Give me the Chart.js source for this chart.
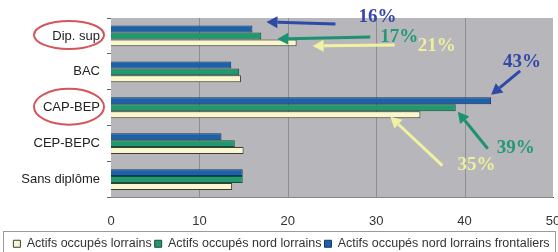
<!DOCTYPE html>
<html><head><meta charset="utf-8">
<script src="https://cdn.jsdelivr.net/npm/chart.js@4/dist/chart.umd.min.js"></script>
<style>html,body{margin:0;padding:0;background:#fff}#wrap{width:558px;height:252px;position:relative}</style>
</head><body><div id="wrap"><canvas id="c" width="558" height="252"></canvas></div>
<script>
const categories = ["Dip. sup", "BAC", "CAP-BEP", "CEP-BEPC", "Sans diplôme"];
const frontaliers = [16, 13.6, 43, 12.5, 14.9];
const nordLorrains = [17, 14.5, 39, 14, 14.9];
const lorrains = [21, 14.7, 35, 15, 13.7];
const xTicks = [0, 10, 20, 30, 40, 50];
const seriesNames = ["Actifs occupés nord lorrains frontaliers", "Actifs occupés nord lorrains", "Actifs occupés lorrains"];
const callouts = [
  {ds:0, idx:0, text:"16%"},
  {ds:1, idx:0, text:"17%"},
  {ds:2, idx:0, text:"21%"},
  {ds:0, idx:2, text:"43%"},
  {ds:1, idx:2, text:"39%"},
  {ds:2, idx:2, text:"35%"}
];
const circled = [0, 2];

const arrowColors = ["#2c4aa6", "#1d9272", "#f1f1a2"];
const textColors = ["#3447a8", "#249878", "#eeeea0"];
// pixel offsets of annotation shapes relative to bar ends
const calloutGeom = [
  {tip:[14,-7], tail:[83,-5], txt:[106,-12]},
  {tip:[16,3], tail:[109,1], txt:[119,1]},
  {tip:[16,3], tail:[98,2], txt:[121,3]},
  {tip:[0,-6], tail:[29,-30], txt:[12,-39]},
  {tip:[2,4], tail:[32,41], txt:[41,40]},
  {tip:[-30,2], tail:[22,51], txt:[37,50]}
];

function arrow(ctx, x1, y1, x2, y2, color) {
  const ang = Math.atan2(y2 - y1, x2 - x1);
  const hl = 11, hw = 6;
  const bx = x2 - hl * Math.cos(ang), by = y2 - hl * Math.sin(ang);
  ctx.strokeStyle = color; ctx.fillStyle = color; ctx.lineWidth = 3;
  ctx.beginPath(); ctx.moveTo(x1, y1); ctx.lineTo(bx, by); ctx.stroke();
  ctx.beginPath();
  ctx.moveTo(x2, y2);
  ctx.lineTo(bx + hw * Math.sin(ang), by - hw * Math.cos(ang));
  ctx.lineTo(bx - hw * Math.sin(ang), by + hw * Math.cos(ang));
  ctx.closePath(); ctx.fill();
}

const decor = {
  id: 'decor',
  beforeDatasetsDraw(chart) {
    const {ctx, chartArea: a} = chart;
    ctx.save();
    ctx.fillStyle = '#b7b7bb';
    ctx.fillRect(a.left, a.top, a.right - a.left, a.bottom - a.top);
    const xs = chart.scales.x;
    ctx.strokeStyle = '#8e8e90'; ctx.lineWidth = 1;
    xTicks.slice(1, -1).forEach(v => {
      const px = Math.round(xs.getPixelForValue(v)) + 0.5;
      ctx.beginPath(); ctx.moveTo(px, a.top); ctx.lineTo(px, a.bottom); ctx.stroke();
    });
    ctx.restore();
  },
  afterDatasetsDraw(chart) {
    const {ctx} = chart;
    ctx.save();
    callouts.forEach((c, i) => {
      const el = chart.getDatasetMeta(c.ds).data[c.idx];
      const g = calloutGeom[i];
      const bx = el.x, by = el.y;
      arrow(ctx, bx + g.tail[0], by + g.tail[1], bx + g.tip[0], by + g.tip[1], arrowColors[c.ds]);
      ctx.font = 'bold 19px "Liberation Serif", "Times New Roman", serif';
      ctx.fillStyle = textColors[c.ds];
      ctx.textBaseline = 'middle'; ctx.textAlign = 'left';
      ctx.fillText(c.text, bx + g.txt[0], by + g.txt[1]);
    });
    // red ellipses around labels
    const ys = chart.scales.y;
    ctx.strokeStyle = '#d4555a'; ctx.lineWidth = 2;
    circled.forEach((idx, k) => {
      const cy = ys.getPixelForValue(idx);
      ctx.beginPath();
      ctx.ellipse(69, cy - 1, 35, k === 0 ? 14 : 18, 0, 0, Math.PI * 2);
      ctx.stroke();
    });
    // legend box
    ctx.strokeStyle = '#9a9a9a'; ctx.lineWidth = 1;
    ctx.strokeRect(3.5, 231.5, 552, 30);
    ctx.restore();
  }
};

new Chart(document.getElementById('c'), {
  type: 'bar',
  data: {
    labels: categories,
    datasets: [
      {label: seriesNames[0], data: frontaliers, backgroundColor: '#1b62aa', borderColor: '#17365e', borderWidth: 1},
      {label: seriesNames[1], data: nordLorrains, backgroundColor: '#1e9a6c', borderColor: '#1d4a3a', borderWidth: 1},
      {label: seriesNames[2], data: lorrains, backgroundColor: '#fbf7cc', borderColor: '#3c3c3c', borderWidth: 1}
    ]
  },
  options: {
    indexAxis: 'y',
    responsive: false,
    animation: false,
    devicePixelRatio: 1,
    categoryPercentage: 0.58,
    barPercentage: 1.0,
    layout: {padding: {top: 18, right: 5, left: 10, bottom: -8}},
    scales: {
      x: {
        min: 0, max: 50,
        afterBuildTicks(s) { s.ticks = xTicks.map(v => ({value: v})); },
        ticks: {color: '#333', font: {family: 'Arial, "Liberation Sans", sans-serif', size: 13}, padding: 12},
        grid: {display: false, drawTicks: true, tickLength: 4},
        border: {display: true, color: '#555'},
        afterFit(s) { s.height = 37; s.paddingRight = 0; s.paddingLeft = 0; }
      },
      y: {
        ticks: {color: '#222', font: {family: 'Arial, "Liberation Sans", sans-serif', size: 13}, padding: 7},
        grid: {display: true, drawOnChartArea: false, offset: true, tickLength: 4, color: '#666'},
        border: {display: true, color: '#555'},
        afterFit(s) { s.width = 101; }
      }
    },
    plugins: {
      legend: {
        position: 'bottom', reverse: true,
        labels: {boxWidth: 7, boxHeight: 7, padding: 3, color: '#333',
          font: {family: 'Arial, "Liberation Sans", sans-serif', size: 12.5}}
      },
      tooltip: {enabled: false}
    }
  },
  plugins: [decor]
});
</script></body></html>
